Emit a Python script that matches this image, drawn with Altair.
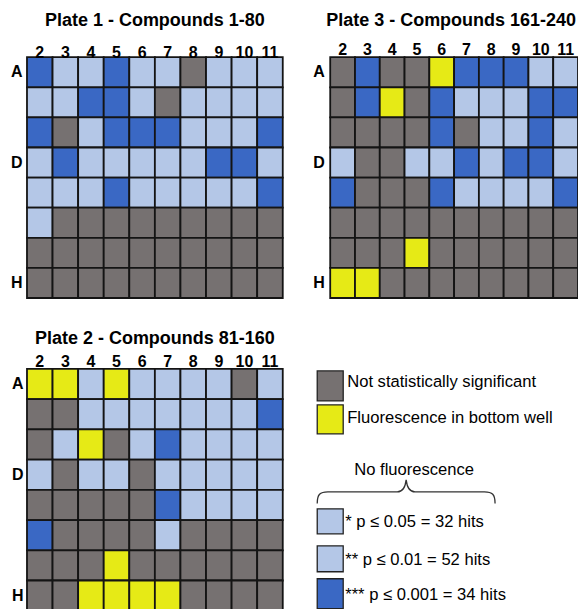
import altair as alt
import pandas as pd

FONT = "Liberation Sans"

# ---------------- data ----------------
rows = ["A", "B", "C", "D", "E", "F", "G", "H"]
cols = [2, 3, 4, 5, 6, 7, 8, 9, 10, 11]
shown_rows = ["A", "D", "H"]

# G = not significant, Y = fluorescence in bottom well,
# L = p <= 0.05 / p <= 0.01, B = p <= 0.001
plate1 = ["BLLBLLGLLL", "LLBBLGLLLL", "BGLBBBLLLB", "LBLLLLLBBL",
          "LLLBLLLLLB", "LGGGGGGGGG", "GGGGGGGGGG", "GGGGGGGGGG"]
plate2 = ["YYLYLLLLGL", "GGLLLLLLLB", "GLYGLBLLLL", "LGLLGLLLLL",
          "GGGGGBLLLL", "BGGGGLGGGG", "GGGYGGGGGG", "GGYYYYGGGG"]
plate3 = ["GBGGYBBBLL", "GBYGBLLLBB", "GGGGBGLLBL", "LGGLLBLBBL",
          "BGGGBLLLLB", "GGGGGGGGGG", "GGGYGGGGGG", "YYGGGGGGGG"]

titles = ["Plate 1 - Compounds 1-80", "Plate 2 - Compounds 81-160",
          "Plate 3 - Compounds 161-240"]

codes = ["G", "Y", "L", "B"]
GRAY, YELLOW, LIGHT, DARK = "#767171", "#e6ea16", "#b4c7e7", "#3a68c4"
code_colors = [GRAY, YELLOW, LIGHT, DARK]

legend_labels = ["Not statistically significant", "Fluorescence in bottom well",
                 "* p \u2264 0.05 = 32 hits", "** p \u2264 0.01 = 52 hits",
                 "*** p \u2264 0.001 = 34 hits"]
legend_colors = [GRAY, YELLOW, LIGHT, LIGHT, DARK]
legend_header = "No fluorescence"

# legend layout (px inside legend panel)
leg_box_top = [2, 36, 140, 177, 210]
leg_box_bot = [32, 65, 165, 203, 240]
leg_text_y = [18, 54, 158, 196, 231]
leg_text_x = [17, 17, 15, 15, 15]

BRACE = ("M-1,0.13 C-1,0.03 -0.97,0 -0.88,0 L-0.1,0 C-0.04,0 -0.01,-0.05 0,-0.135 "
         "C0.01,-0.05 0.04,0 0.1,0 L0.88,0 C0.97,0 1,0.03 1,0.13")

label_expr = "indexof([" + ",".join("'%s'" % r for r in shown_rows) + "], datum.value) >= 0 ? datum.value : ''"


def plate_chart(grid, title, width, height, top_pad, left_pad, title_offset, title_dx=0):
    df = pd.DataFrame([{"row": r, "col": c, "status": grid[i][j]}
                       for i, r in enumerate(rows) for j, c in enumerate(cols)])
    return alt.Chart(df).mark_rect(stroke="#141414", strokeWidth=1.8).encode(
        x=alt.X("col:O", sort=cols, scale=alt.Scale(paddingInner=0, paddingOuter=0),
                axis=alt.Axis(orient="top", title=None, labelAngle=0, labelFont=FONT,
                              labelFontSize=16, labelFontWeight="bold", labelColor="#000",
                              ticks=False, domain=False, grid=False,
                              labelPadding=top_pad, labelBaseline="alphabetic")),
        y=alt.Y("row:O", sort=rows, scale=alt.Scale(paddingInner=0, paddingOuter=0),
                axis=alt.Axis(title=None, labelExpr=label_expr, labelFont=FONT,
                              labelFontSize=16, labelFontWeight="bold", labelColor="#000",
                              ticks=False, domain=False, grid=False,
                              labelPadding=left_pad)),
        color=alt.Color("status:N", scale=alt.Scale(domain=codes, range=code_colors),
                        legend=None),
    ).properties(
        width=width, height=height,
        title=alt.TitleParams(title, font=FONT, fontSize=18, fontWeight="bold",
                              color="#000", offset=title_offset, anchor="middle",
                              frame="group", baseline="alphabetic", dx=title_dx),
    )


p1 = plate_chart(plate1, titles[0], 256, 241, 0, 5, 0)
p3 = plate_chart(plate3, titles[2], 248, 241, 3, 6, -3, -3)
p2 = plate_chart(plate2, titles[1], 256, 242, 2, 4, -8)

legdf = pd.DataFrame({
    "label": legend_labels, "color": legend_colors,
    "top": leg_box_top, "bot": leg_box_bot, "ty": leg_text_y, "tx": leg_text_x,
})

boxes = alt.Chart(legdf).mark_rect(stroke="#222222", strokeWidth=1.3).encode(
    x=alt.value(-13), x2=alt.value(13),
    y=alt.Y("top:Q", scale=None, axis=None), y2="bot:Q",
    color=alt.Color("color:N", scale=None),
)
texts = alt.Chart(legdf).mark_text(align="left", baseline="alphabetic", font=FONT,
                                    fontSize=16.6, color="#000").encode(
    x=alt.X("tx:Q", scale=None, axis=None),
    y=alt.Y("ty:Q", scale=None, axis=None),
    text="label:N",
)
hdr = alt.Chart(pd.DataFrame({"t": [legend_header]})).mark_text(
    align="center", baseline="alphabetic", font=FONT, fontSize=16.6, color="#000"
).encode(x=alt.value(84), y=alt.value(106), text="t:N")
brace = alt.Chart(pd.DataFrame({"t": [legend_header]})).mark_point(
    shape=BRACE, size=178 * 178, filled=False, stroke="#333333", strokeWidth=1.3, opacity=1
).encode(x=alt.value(76), y=alt.value(123))

legend = alt.layer(boxes, texts, hdr, brace).properties(width=248, height=242)

chart = alt.concat(
    p1, p3, p2, legend, columns=2,
    spacing={"row": 71, "column": 47.5}, bounds="flush",
).configure_view(stroke=None).properties(
    padding={"left": 2, "top": 4, "right": -1.5, "bottom": 0},
    background="white",
)

chart.save("out.html", embed_options={"renderer": "svg", "actions": False})
